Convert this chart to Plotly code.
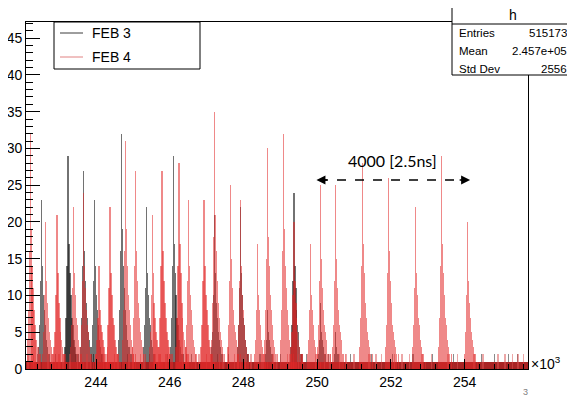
import plotly.graph_objects as go

# ---------------- data (x in units of 10^3) ----------------
feb4_peak_x = [242.21, 242.64, 242.94, 243.38, 243.65, 244.08, 244.38, 244.79, 245.08,
               245.52, 245.79, 246.25, 246.52, 246.93, 247.22, 247.66, 247.93, 248.39,
               248.66, 249.09, 249.37, 249.83, 250.10, 250.50, 251.24, 251.94, 252.67,
               253.38, 254.08]
feb4_peak_h = [32, 20, 21, 22, 24, 14, 22, 31, 27,
               21, 27, 28, 23, 23, 35, 25, 23, 17,
               30, 32, 20, 17, 25, 25, 28, 26, 22,
               29, 20]

feb3_peak_x = [242.51, 243.24, 243.65, 243.95, 244.68, 245.38, 246.09, 247.22, 247.93,
               248.66, 249.37, 250.10, 250.50]
feb3_peak_h = [23, 29, 27, 23, 32, 22, 29, 21, 22, 8, 24, 9, 5]

# typical peak shape read from the spikes (offset in 10^3, fraction of peak height)
peak_offsets = [-0.081, -0.054, -0.027, 0.0, 0.027, 0.054, 0.081, 0.108, 0.135, 0.162, 0.19, 0.217, 0.27]
peak_frac = [0.12, 0.25, 0.5, 1.0, 0.6, 0.45, 0.33, 0.25, 0.19, 0.14, 0.1, 0.08, 0.06]

# flat 1-count band and scattered 2-count bins
band_range = [242.1, 255.72]
feb4_twos_x = [242.15, 242.3, 242.45, 242.7, 242.8, 243.0, 243.1, 243.3, 243.5, 243.75,
               243.85, 244.0, 244.2, 244.3, 244.5, 244.6, 244.9, 245.0, 245.2, 245.3,
               245.6, 245.7, 245.9, 246.0, 246.35, 246.45, 246.7, 246.8, 247.0, 247.1,
               247.35, 247.45, 247.75, 247.85, 248.05, 248.2, 248.5, 248.55, 248.8, 248.9,
               249.2, 249.25, 249.5, 249.6, 249.95, 250.2, 250.35, 250.6, 250.8, 251.0,
               251.4, 251.6, 251.75, 252.1, 252.3, 252.5, 252.85, 253.1, 253.55, 253.8,
               254.25, 254.5, 254.9, 255.1, 255.3, 255.45, 255.6]
feb3_twos_x = [242.4, 242.9, 243.45, 244.15, 244.85, 245.45, 245.95, 246.6, 247.3, 247.6,
               248.1, 248.45, 249.0, 249.7, 250.3, 250.9, 251.48, 252.05, 252.6, 253.13,
               253.7, 254.46, 254.8, 255.2, 255.44]

x_ticks = [244, 246, 248, 250, 252, 254]
y_ticks = [0, 5, 10, 15, 20, 25, 30, 35, 40, 45]

stats_rows = [("Entries", "515173"), ("Mean", "2.457e+05"), ("Std Dev", "2556")]
legend_labels = ["FEB 3", "FEB 4"]

# ---------------- build bins ----------------
def peak_bins(px, ph):
    xs, ys = [], []
    for x0, h in zip(px, ph):
        for o, f in zip(peak_offsets, peak_frac):
            v = round(h * f)
            if v > 0:
                xs.append(x0 + o)
                ys.append(v)
    return xs, ys

f4x, f4y = peak_bins(feb4_peak_x, feb4_peak_h)
f3x, f3y = peak_bins(feb3_peak_x, feb3_peak_h)

RED = "rgba(225,40,40,0.55)"
BLACK = "rgba(20,20,20,0.6)"
bw = 0.03

fig = go.Figure()
band_c = (band_range[0] + band_range[1]) / 2
band_w = band_range[1] - band_range[0]
fig.add_trace(go.Bar(x=[band_c], y=[1], width=[band_w], marker=dict(color="rgba(60,20,20,0.9)", line_width=0), showlegend=False, hoverinfo="skip"))
fig.add_trace(go.Bar(x=feb3_twos_x, y=[2] * len(feb3_twos_x), width=0.03, marker=dict(color="rgba(90,90,90,0.7)", line_width=0), showlegend=False))
fig.add_trace(go.Bar(x=f3x, y=f3y, width=bw, marker=dict(color=BLACK, line_width=0), name=legend_labels[0], showlegend=False))
fig.add_trace(go.Bar(x=[band_c], y=[1], width=[band_w], marker=dict(color="rgba(185,35,35,0.85)", line_width=0), showlegend=False, hoverinfo="skip"))
fig.add_trace(go.Bar(x=feb4_twos_x, y=[2] * len(feb4_twos_x), width=0.04, marker=dict(color="rgba(220,80,80,0.5)", line_width=0), showlegend=False))
fig.add_trace(go.Bar(x=f4x, y=f4y, width=bw, marker=dict(color=RED, line_width=0), name=legend_labels[1], showlegend=False))

FONT = "Liberation Sans, Arial, sans-serif"
# the page body has an 8px margin, so the figure is shrunk by 8px and margins compensated
fig.update_layout(
    width=567, height=390,
    margin=dict(l=18, r=47, t=14, b=29, autoexpand=False),
    paper_bgcolor="white", plot_bgcolor="white",
    barmode="overlay", bargap=0,
    showlegend=False,
    font=dict(family=FONT, size=14, color="black"),
)
fig.update_xaxes(range=[242.1, 255.72], tickvals=x_ticks, ticktext=[str(t) for t in x_ticks],
                 ticks="inside", ticklen=10, tickcolor="black", showgrid=False, zeroline=False,
                 showline=True, linecolor="black", linewidth=1, mirror=True, automargin=False,
                 minor=dict(ticks="inside", ticklen=5, dtick=0.4, tickcolor="black"),
                 tickfont=dict(size=14, family=FONT))
fig.update_yaxes(range=[0, 47.2], tickvals=y_ticks, ticks="inside", ticklen=14, tickcolor="black",
                 showgrid=False, zeroline=False, showline=True, linecolor="black", linewidth=1, mirror=True,
                 automargin=False,
                 minor=dict(ticks="inside", ticklen=7, dtick=1, tickcolor="black"),
                 tickfont=dict(size=14, family=FONT))

# dashed double arrow + label
fig.add_shape(type="line", x0=250.05, x1=254.08, y0=25.7, y1=25.7, line=dict(color="black", width=1.5, dash="dash"))
fig.add_annotation(x=249.98, y=25.7, ax=12, ay=0, text="", showarrow=True, arrowhead=2, arrowsize=1.2, arrowwidth=1.5, arrowcolor="black")
fig.add_annotation(x=254.15, y=25.7, ax=-12, ay=0, text="", showarrow=True, arrowhead=2, arrowsize=1.2, arrowwidth=1.5, arrowcolor="black")
fig.add_annotation(x=252.04, y=28.3, text="4000 [2.5ns]", showarrow=False, font=dict(family="Lato, sans-serif", size=16, color="black"))

# stats box (positions given in window pixels, converted to paper coords)
def px2x(p): return (p - 26) / 502
def py2y(p): return (369 - p) / 347
fig.add_shape(type="rect", xref="paper", yref="paper", x0=px2x(452), x1=px2x(574), y0=py2y(75), y1=py2y(5),
              line=dict(color="black", width=1), fillcolor="white", layer="above")
fig.add_shape(type="line", xref="paper", yref="paper", x0=px2x(452), x1=px2x(574), y0=py2y(24), y1=py2y(24),
              line=dict(color="black", width=1))
fig.add_annotation(xref="paper", yref="paper", x=px2x(513), y=py2y(15), text="h", showarrow=False,
                   xanchor="center", yanchor="middle", font=dict(size=14, family=FONT))
for i, (lab, val) in enumerate(stats_rows):
    yy = py2y(33 + 18 * i)
    fig.add_annotation(xref="paper", yref="paper", x=px2x(457), y=yy, text=lab, showarrow=False,
                       xanchor="left", yanchor="middle", font=dict(size=11.5, family=FONT))
    fig.add_annotation(xref="paper", yref="paper", x=px2x(569), y=yy, text=val, showarrow=False,
                       xanchor="right", yanchor="middle", font=dict(size=11.5, family=FONT))

# legend box
fig.add_shape(type="rect", xref="paper", yref="paper", x0=px2x(54), x1=px2x(200), y0=py2y(69), y1=py2y(22),
              line=dict(color="black", width=1), fillcolor="white", layer="above")
leg_colors = ["rgb(60,60,60)", "rgb(225,130,130)"]
for i, (lab, col) in enumerate(zip(legend_labels, leg_colors)):
    yy = py2y(33 + 24 * i)
    fig.add_shape(type="line", xref="paper", yref="paper", x0=px2x(60), x1=px2x(83), y0=yy, y1=yy, line=dict(color=col, width=1))
    fig.add_annotation(xref="paper", yref="paper", x=px2x(90), y=yy, text=lab, showarrow=False,
                       xanchor="left", yanchor="middle", font=dict(size=14, family=FONT))

# x10^3 and page number
fig.add_annotation(xref="paper", yref="paper", x=px2x(529), y=py2y(363), text="×10<sup>3</sup>", showarrow=False,
                   xanchor="left", yanchor="middle", font=dict(size=14, family=FONT))
fig.add_annotation(xref="paper", yref="paper", x=px2x(525), y=py2y(392), text="3", showarrow=False,
                   xanchor="center", yanchor="middle", font=dict(size=9, family=FONT, color="gray"))

fig.write_html("out.html")
